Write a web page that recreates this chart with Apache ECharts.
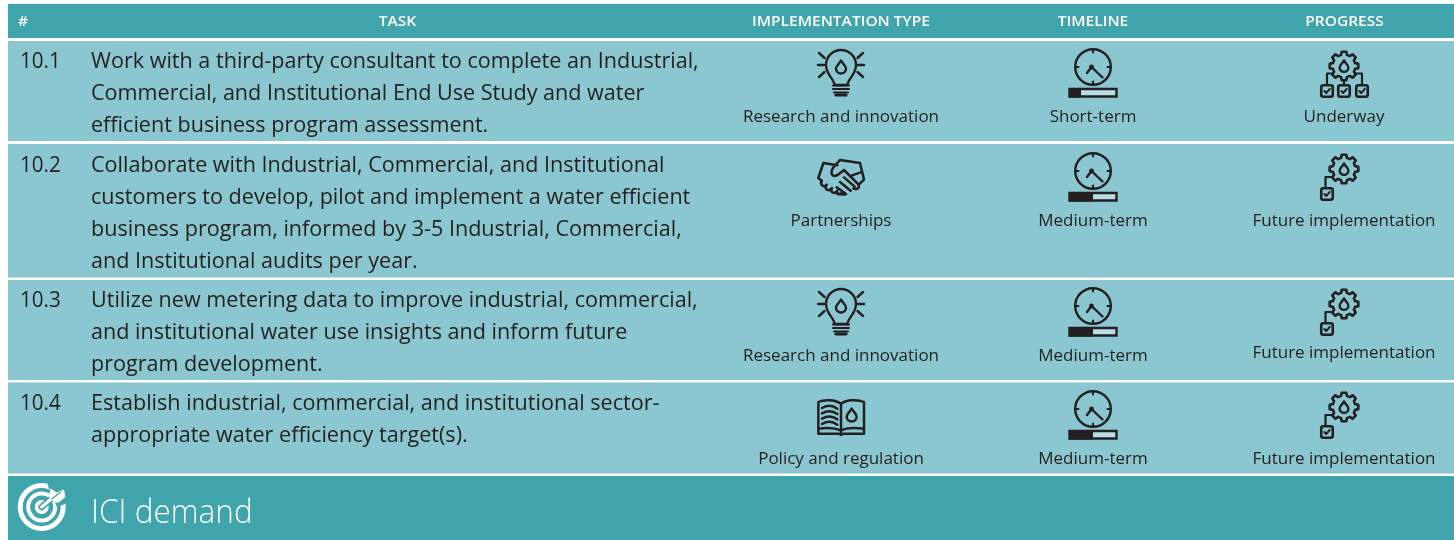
<!DOCTYPE html>
<html><head><meta charset="utf-8">
<style>html,body{margin:0;padding:0;background:#fff}#c{width:1454px;height:540px}</style>
<script src="https://cdn.jsdelivr.net/npm/echarts@6/dist/echarts.min.js"></script>
</head><body><div id="c"></div>
<script>
const headers = ['#','TASK','IMPLEMENTATION TYPE','TIMELINE','PROGRESS'];
const taskIds = ['10.1','10.2','10.3','10.4'];
const taskLines = [
 ['Work with a third-party consultant to complete an Industrial,','Commercial, and Institutional End Use Study and water','efficient business program assessment.'],
 ['Collaborate with Industrial, Commercial, and Institutional','customers to develop, pilot and implement a water efficient','business program, informed by 3-5 Industrial, Commercial,','and Institutional audits per year.'],
 ['Utilize new metering data to improve industrial, commercial,','and institutional water use insights and inform future','program development.'],
 ['Establish industrial, commercial, and institutional sector-','appropriate water efficiency target(s).']
];
const implementationTypes = ['Research and innovation','Partnerships','Research and innovation','Policy and regulation'];
const timelines = ['Short-term','Medium-term','Medium-term','Medium-term'];
const progress = ['Underway','Future implementation','Future implementation','Future implementation'];
const footerTitle = 'ICI demand';

// layout
const rowTop = [41,144,280,382.5], rowBottom = [141,277.5,380,473.5];
const textY = [62,166,301,403.5];
const typeLabelY = [116,220,355,458], timeLabelY = [116,220,355,458], progLabelY = [116,220,352,458];
const progIconY = [66,169,304,407];
const colX = {type:841,time:1093,prog:1344};
const headerX=[23,397.5,841,1093,1344.5];
const INK='#231f20', HEAD='#3fa4ab', ROW='#8ac7d1', FONT='"Open Sans"';
const LW=2.2;

const p=(d,o)=>({type:'path',shape:{pathData:d},style:Object.assign({fill:null,stroke:INK,lineWidth:LW,lineJoin:'round',lineCap:'round'},o||{})});
const at=(x,y,children,s)=>({type:'group',x,y,scaleX:s||1,scaleY:s||1,children});
const drop=(cy,r)=>`M0 ${cy-r*1.5} C${r*.35} ${cy-r*.8} ${r} ${cy-r*.4} ${r} ${cy+r*.1} A${r} ${r} 0 0 1 ${-r} ${cy+r*.1} C${-r} ${cy-r*.4} ${-r*.35} ${cy-r*.8} 0 ${cy-r*1.5}Z`;

function bulb(x,y){
  return at(x,y,[
    p('M-6.5 20 C-6.5 14 -15 10 -15 0 A15 15 0 1 1 15 0 C15 10 6.5 14 6.5 20 Z',{lineWidth:2.4}),
    p('M-8 20.5 H8 M-8 24 H8 M-7 27.5 H7',{lineWidth:2.2}),
    p('M-5 30 H5',{lineWidth:3.2}),
    p(drop(3,5),{lineWidth:2.4}),
    p('M-23 0 H-17 M17 0 H23 M-22 -12 L-16.5 -7 M22 -12 L16.5 -7 M-22 12 L-16.5 7 M22 12 L16.5 7',{lineWidth:2.4})
  ]);
}
function clock(x,y,frac){
  return at(x,y,[
    {type:'circle',shape:{cx:0,cy:0,r:17.8},style:{fill:null,stroke:INK,lineWidth:2.4}},
    p('M0 -18 V-14.5 M0 18 V14.5 M-18 0 H-14.5 M18 0 H14.5',{lineWidth:2}),
    p('M-6 6 L-1.5 0 L9.5 10.5',{lineWidth:2.4}),
    {type:'circle',shape:{cx:-1.5,cy:0,r:2.4},style:{fill:INK}},
    {type:'rect',shape:{x:-23.5,y:22,width:47,height:7.5},style:{fill:'#b9dfe5',stroke:INK,lineWidth:2.4}},
    {type:'rect',shape:{x:-24,y:21,width:48*frac,height:9.5},style:{fill:INK}}
  ]);
}
function gearPath(n,rO,rI){
  let d='';const st=2*Math.PI/n;
  for(let i=0;i<n;i++){
    const a=i*st-Math.PI/2;
    const pts=[[rI,a-st*.32],[rO,a-st*.2],[rO,a+st*.2],[rI,a+st*.32]];
    pts.forEach((q,j)=>{const X=(q[0]*Math.cos(q[1])).toFixed(2),Y=(q[0]*Math.sin(q[1])).toFixed(2);d+=((i===0&&j===0)?'M':'L')+X+' '+Y+' ';});
  }
  return d+'Z';
}
function checkBox(cx,cy,s){
  const h=s/2;
  return [
    {type:'rect',shape:{x:cx-h,y:cy-h,width:s,height:s,r:2},style:{fill:null,stroke:INK,lineWidth:2.6}},
    p(`M${cx-2.6} ${cy} L${cx-.8} ${cy+2} L${cx+2.8} ${cy-2.2}`,{lineWidth:2})
  ];
}
function gear(){
  return [
    p(gearPath(8,14.5,11.5),{lineWidth:2.6}),
    p(drop(1,4.4),{lineWidth:2.4})
  ];
}
function gearSingle(x,y){
  return at(x,y,gear().concat([p('M-12 8 H-18.5 V19')]).concat(checkBox(-17,25,11.5)));
}
function gearTriple(x,y){
  return at(x,y,gear().concat([
    p('M-12 7.5 H-17 V19 M12 7.5 H18 V19 M0 14 V19')
  ]).concat(checkBox(-17,25,11.5),checkBox(0,25,11.5),checkBox(18,25,11.5)));
}
function handshake(x,y){
  const t=(d,o)=>p(d,Object.assign({lineWidth:7.6},o||{}));
  return at(x,y,[at(-183,-97,[
    t('M125 108 L115 100 L130 55 L172 62 M180 46 L240 55 L252 105 L236 120'),
    t('M180 46 L160 68 C148 88 158 100 174 90 L192 76 L236 120 C240 132 228 136 220 131'),
    t('M192 98 L224 126 M180 112 L212 138 M170 128 L198 148 C190 152 178 148 170 146'),
    t('M216 92 L240 84'),
    t('M125 108 C118 122 134 130 140 120 C130 134 148 142 156 130 C148 144 164 150 172 138 C166 148 176 152 184 146'),
  ])],1/3);
}
function book(x,y){
  const t=(d,o)=>p(d,Object.assign({lineWidth:7.4},o||{}));
  return at(x,y,[at(-153,-95,[
    t('M153 55 C135 42 100 42 85 50 V145 H145 L153 149 L161 145 H222 V50 C205 42 170 42 153 55 V145'),
    t('M85 130 C105 127 135 127 153 135 C170 127 200 127 222 130'),
    t('M96 68 C110 60 128 60 142 70 M96 84 C110 76 128 76 142 86 M96 100 C110 92 128 92 142 102 M96 116 C110 108 128 108 142 118'),
    at(185,0,[t(drop(92,15))])
  ])],1/3);
}
function targetIcon(x,y){
  return at(x,y,[
    {type:'circle',shape:{cx:0,cy:0,r:21.5},style:{fill:null,stroke:'#fff',lineWidth:5}},
    {type:'circle',shape:{cx:0,cy:0,r:13.5},style:{fill:null,stroke:'#fff',lineWidth:4}},
    {type:'circle',shape:{cx:0,cy:0,r:7},style:{fill:'#fff'}},
    p('M0 0 L15 -13',{stroke:HEAD,lineWidth:6.5}),
    p('M7 -22 L27 -22 L27 -6 L16 -1 Z',{fill:HEAD,stroke:HEAD,lineWidth:2}),
    p('M0 0 L13 -11',{stroke:'#fff',lineWidth:3}),
    p('M8 -10 L9 -18 L15 -14 L22 -17 L23 -10 L17 -5 L13 -5 Z',{fill:'#fff',stroke:'#fff',lineWidth:1}),
    p('M10 -8 L19 -15',{stroke:HEAD,lineWidth:1.2})
  ]);
}

function txt(x,y,text,font,fill,align,sx){
  return {type:'text',x,y,scaleX:sx||1,style:{x:0,y:0,text,font,fill,textAlign:align,textVerticalAlign:'middle'}};
}
const F_BODY=`400 21.7px ${FONT}`, SX_BODY=0.995;
const F_LAB=`400 17px ${FONT}`;

function renderRow(params,api){
  const i=api.value(0), top=rowTop[i], bot=rowBottom[i];
  const ch=[{type:'rect',shape:{x:8,y:top,width:1446,height:bot-top},style:{fill:ROW}}];
  ch.push(txt(20,textY[i],taskIds[i],F_BODY,INK,'left',0.95));
  taskLines[i].forEach((l,k)=>ch.push(txt(91,textY[i]+k*32,l,F_BODY,INK,'left',SX_BODY)));
  const ty=implementationTypes[i], tl=typeLabelY[i];
  if(ty==='Research and innovation') ch.push(bulb(colX.type,tl-51));
  else if(ty==='Partnerships') ch.push(handshake(colX.type,tl-43));
  else ch.push(book(colX.type,tl-41));
  ch.push(txt(colX.type,tl+1,ty,F_LAB,INK,'center'));
  ch.push(clock(colX.time,timeLabelY[i]-49,timelines[i]==='Short-term'?0.25:0.5));
  ch.push(txt(colX.time,timeLabelY[i]+1,timelines[i],F_LAB,INK,'center'));
  ch.push(progress[i]==='Underway'?gearTriple(colX.prog,progIconY[i]):gearSingle(colX.prog,progIconY[i]));
  ch.push(txt(colX.prog,progLabelY[i]+1,progress[i],F_LAB,INK,'center'));
  return {type:'group',children:ch};
}
function renderFrame(){
  const ch=[
    {type:'rect',shape:{x:8,y:4,width:1446,height:34},style:{fill:HEAD}},
    {type:'rect',shape:{x:8,y:476,width:1446,height:64},style:{fill:HEAD}},
    targetIcon(41.7,507),
    txt(91,514,footerTitle,`300 32.5px ${FONT}`,'#fff','left',0.97)
  ];
  headers.forEach((h,i)=>ch.push(txt(headerX[i],21.5,h,`600 15px ${FONT}`,'#fff','center',1.035)));
  return {type:'group',children:ch};
}

const chart=echarts.init(document.getElementById('c'));
chart.setOption({
  animation:false,
  backgroundColor:'#fff',
  series:[
    {type:'custom',coordinateSystem:'none',silent:true,data:[[0]],renderItem:renderFrame},
    {type:'custom',coordinateSystem:'none',silent:true,data:taskIds.map((id,i)=>[i]),renderItem:renderRow}
  ]
});
</script></body></html>
